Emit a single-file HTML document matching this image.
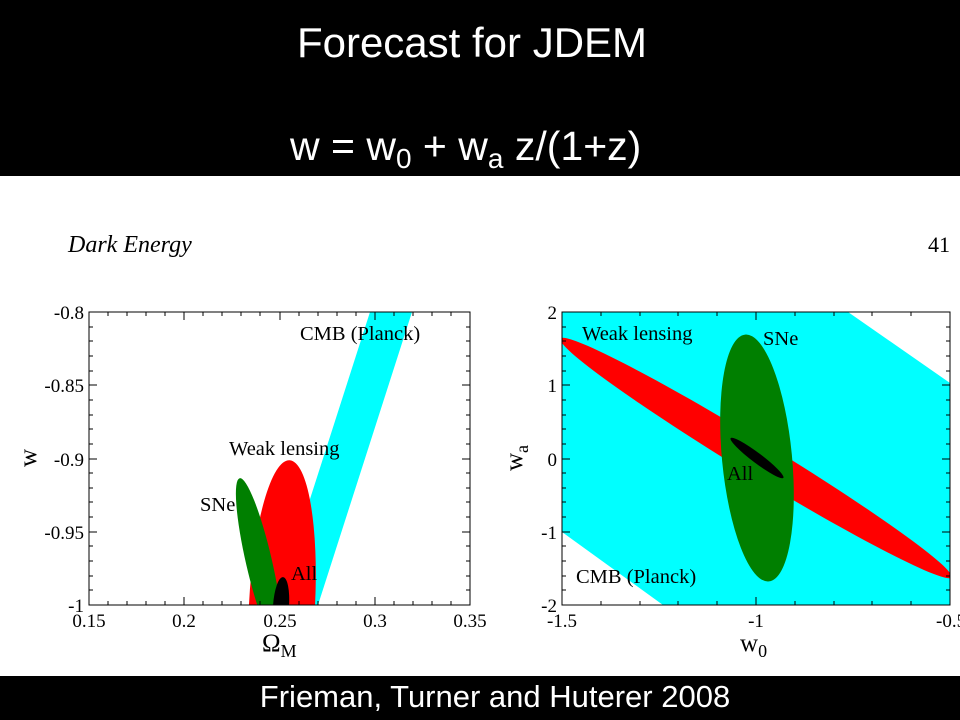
<!DOCTYPE html>
<html><head><meta charset="utf-8"><style>
body{margin:0;width:960px;height:720px;background:#fff;overflow:hidden}
svg{display:block}
.s{font-family:"Liberation Serif",serif;fill:#000}
.a{font-family:"Liberation Sans",sans-serif;fill:#fff}
</style></head><body>
<svg width="960" height="720" xmlns="http://www.w3.org/2000/svg">
<rect x="0" y="0" width="960" height="176" fill="#000"/>
<text class="a" x="472" y="57" font-size="42" text-anchor="middle">Forecast for JDEM</text>
<text class="a" x="290" y="160" font-size="41">w = w<tspan font-size="28" dy="8">0</tspan><tspan dy="-8"> + w</tspan><tspan font-size="28" dy="8">a</tspan><tspan dy="-8"> z/(1+z)</tspan></text>
<rect x="0" y="676" width="960" height="44" fill="#000"/>
<text class="a" x="495" y="707" font-size="31" text-anchor="middle">Frieman, Turner and Huterer 2008</text>
<text class="s" x="68" y="252" font-size="24" font-style="italic">Dark Energy</text>
<text class="s" x="928" y="252" font-size="22">41</text>

<defs>
<clipPath id="c1"><rect x="89" y="312" width="381" height="293"/></clipPath>
<clipPath id="c2"><rect x="562" y="312" width="388" height="293"/></clipPath>
</defs>
<g clip-path="url(#c1)">
<polygon points="370,312 412,312 318,605 276,605" fill="#00ffff"/>
<ellipse cx="282" cy="605" rx="33" ry="145" transform="rotate(3 282 605)" fill="#ff0000"/>
<ellipse cx="259" cy="562" rx="13" ry="86" transform="rotate(-13 259 562)" fill="#007f00"/>
<ellipse cx="281" cy="606" rx="8" ry="29" transform="rotate(4 281 606)" fill="#000"/>
</g>
<rect x="89" y="312" width="381" height="293" fill="none" stroke="#000" stroke-width="1"/>
<g class="s" font-size="19">
<text x="84" y="319" text-anchor="end">-0.8</text>
<text x="84" y="392" text-anchor="end">-0.85</text>
<text x="84" y="466" text-anchor="end">-0.9</text>
<text x="84" y="539" text-anchor="end">-0.95</text>
<text x="84" y="612" text-anchor="end">-1</text>
<text x="89" y="627" text-anchor="middle">0.15</text>
<text x="184" y="627" text-anchor="middle">0.2</text>
<text x="280" y="627" text-anchor="middle">0.25</text>
<text x="375" y="627" text-anchor="middle">0.3</text>
<text x="470" y="627" text-anchor="middle">0.35</text>
<text x="300" y="340" font-size="20.5">CMB (Planck)</text>
<text x="229" y="455" font-size="20.5">Weak lensing</text>
<text x="200" y="511" font-size="20.5">SNe</text>
<text x="291" y="580" font-size="20.5">All</text>
</g>
<text class="s" x="262" y="651" font-size="25">Ω<tspan font-size="18" dy="6">M</tspan></text>
<text class="s" x="36" y="458" font-size="25" transform="rotate(-90 36 458)" text-anchor="middle">w</text>

<g clip-path="url(#c2)">
<rect x="562" y="312" width="388" height="293" fill="#00ffff"/>
<polygon points="848,312 960,312 960,390 950,383" fill="#fff"/>
<polygon points="562,532 663,605 550,605 550,532" fill="#fff"/>
<ellipse cx="756" cy="458" rx="229" ry="17" transform="rotate(31.4 756 458)" fill="#ff0000"/>
<ellipse cx="757" cy="458" rx="35" ry="124" transform="rotate(-5.5 757 458)" fill="#007f00"/>
<ellipse cx="757" cy="458" rx="33" ry="5" transform="rotate(37 757 458)" fill="#000"/>
</g>
<rect x="562" y="312" width="388" height="293" fill="none" stroke="#000" stroke-width="1"/>
<g class="s" font-size="19">
<text x="557" y="319" text-anchor="end">2</text>
<text x="557" y="392" text-anchor="end">1</text>
<text x="557" y="466" text-anchor="end">0</text>
<text x="557" y="539" text-anchor="end">-1</text>
<text x="557" y="612" text-anchor="end">-2</text>
<text x="562" y="627" text-anchor="middle">-1.5</text>
<text x="756" y="627" text-anchor="middle">-1</text>
<text x="936" y="627">-0.5</text>
<text x="582" y="340" font-size="20.5">Weak lensing</text>
<text x="763" y="345" font-size="20.5">SNe</text>
<text x="727" y="480" font-size="20.5">All</text>
<text x="576" y="583" font-size="20.5">CMB (Planck)</text>
</g>
<text class="s" x="740" y="651" font-size="25">w<tspan font-size="18" dy="6">0</tspan></text>
<text class="s" x="522" y="458" font-size="25" transform="rotate(-90 522 458)" text-anchor="middle">w<tspan font-size="18" dy="6">a</tspan></text>

<g stroke="#000" stroke-width="1">
<path d="
M108,605v-4M127,605v-4M146,605v-4M165,605v-4M184,605v-8M203,605v-4M222,605v-4M241,605v-4M260,605v-4M280,605v-8M299,605v-4M318,605v-4M337,605v-4M356,605v-4M375,605v-8M394,605v-4M413,605v-4M432,605v-4M451,605v-4
M108,312v4M127,312v4M146,312v4M165,312v4M184,312v8M203,312v4M222,312v4M241,312v4M260,312v4M280,312v8M299,312v4M318,312v4M337,312v4M356,312v4M375,312v8M394,312v4M413,312v4M432,312v4M451,312v4
M89,327h4M89,341h4M89,356h4M89,371h4M89,385h8M89,400h4M89,415h4M89,429h4M89,444h4M89,459h8M89,473h4M89,488h4M89,502h4M89,517h4M89,532h8M89,546h4M89,561h4M89,576h4M89,590h4
M470,327h-4M470,341h-4M470,356h-4M470,371h-4M470,385h-8M470,400h-4M470,415h-4M470,429h-4M470,444h-4M470,459h-8M470,473h-4M470,488h-4M470,502h-4M470,517h-4M470,532h-8M470,546h-4M470,561h-4M470,576h-4M470,590h-4
M601,605v-4M640,605v-4M678,605v-4M717,605v-4M756,605v-8M795,605v-4M834,605v-4M872,605v-4M911,605v-4
M601,312v4M640,312v4M678,312v4M717,312v4M756,312v8M795,312v4M834,312v4M872,312v4M911,312v4
M562,327h4M562,341h4M562,356h4M562,371h4M562,385h8M562,400h4M562,415h4M562,429h4M562,444h4M562,459h8M562,473h4M562,488h4M562,502h4M562,517h4M562,532h8M562,546h4M562,561h4M562,576h4M562,590h4
M950,327h-4M950,341h-4M950,356h-4M950,371h-4M950,385h-8M950,400h-4M950,415h-4M950,429h-4M950,444h-4M950,459h-8M950,473h-4M950,488h-4M950,502h-4M950,517h-4M950,532h-8M950,546h-4M950,561h-4M950,576h-4M950,590h-4
" fill="none"/>
</g>
</svg>
</body></html>
